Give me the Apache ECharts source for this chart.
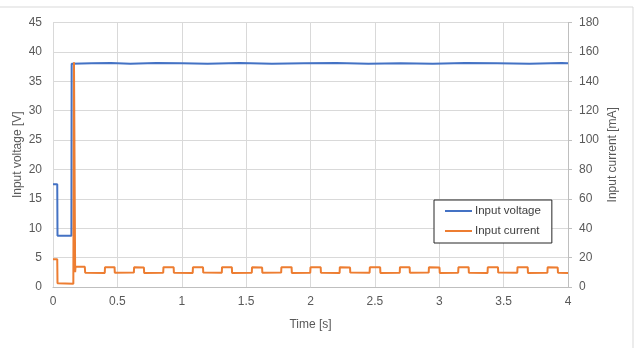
<!DOCTYPE html>
<html><head><meta charset="utf-8">
<script src="https://cdn.jsdelivr.net/npm/echarts@6/dist/echarts.min.js"></script>
<style>html,body{margin:0;padding:0;background:#fff}#c{width:637px;height:348px}</style>
</head><body><div id="c"></div>
<script>
// Time [s] / value pairs (step transitions use repeated times)
var voltageTime   = [0, 0.033, 0.035, 0.143, 0.145, 0.30, 0.45, 0.60, 0.80, 1.00, 1.20, 1.45, 1.70, 1.95, 2.20, 2.45, 2.70, 2.95, 3.20, 3.45, 3.70, 3.95, 4.0];
var voltageValues = [17.5, 17.5, 8.7, 8.7, 38.0, 38.05, 38.1, 38.0, 38.1, 38.05, 38.0, 38.1, 38.0, 38.05, 38.1, 38.0, 38.05, 38.0, 38.1, 38.05, 38.0, 38.1, 38.05];

var currentTime = [0, 0.033, 0.035, 0.158, 0.163, 0.168, 0.172, 0.175, 0.247, 0.250,
  0.402, 0.404, 0.478, 0.480, 0.628, 0.630, 0.706, 0.708, 0.856, 0.858, 0.937, 0.939,
  1.085, 1.087, 1.165, 1.167, 1.311, 1.313, 1.389, 1.391, 1.544, 1.546, 1.624, 1.626,
  1.772, 1.774, 1.853, 1.855, 1.998, 2.000, 2.079, 2.081, 2.226, 2.228, 2.307, 2.309,
  2.459, 2.461, 2.541, 2.543, 2.693, 2.695, 2.770, 2.772, 2.918, 2.920, 3.002, 3.004,
  3.147, 3.149, 3.228, 3.230, 3.375, 3.377, 3.456, 3.458, 3.606, 3.608, 3.687, 3.689,
  3.840, 3.842, 3.920, 3.922, 4.0];
var currentValues = [18.8, 18.8, 2.5, 2.2, 153, 153, 10, 13.8, 13.8, 9.7,
  9.6, 13.4, 13.5, 9.7, 9.8, 13.4, 13.3, 9.6, 9.7, 13.5, 13.4, 9.7,
  9.6, 13.4, 13.4, 9.8, 9.7, 13.5, 13.4, 9.6, 9.7, 13.4, 13.3, 9.7,
  9.8, 13.4, 13.5, 9.6, 9.7, 13.4, 13.4, 9.7, 9.6, 13.5, 13.3, 9.8,
  9.7, 13.4, 13.4, 9.6, 9.7, 13.5, 13.4, 9.7, 9.8, 13.4, 13.3, 9.6,
  9.7, 13.4, 13.5, 9.7, 9.6, 13.4, 13.4, 9.8, 9.7, 13.5, 13.4, 9.6,
  9.7, 13.4, 13.3, 9.7, 9.6];

var seriesNames = ['Input voltage', 'Input current'];
var xAxisTitle = 'Time [s]';
var leftAxisTitle = 'Input voltage [V]';
var rightAxisTitle = 'Input current [mA]';

function pairs(t, v) { return t.map(function (x, i) { return [x, v[i]]; }); }

var FONT = 'Liberation Sans';
var TXT = '#595959';
var chart = echarts.init(document.getElementById('c'), null, {renderer: 'canvas'});
chart.setOption({
  animation: false,
  backgroundColor: '#fff',
  textStyle: {fontFamily: FONT},
  graphic: [{
    type: 'rect', silent: true, z: -10,
    shape: {x: -5, y: 7, width: 638, height: 400},
    style: {fill: null, stroke: '#d9d9d9', lineWidth: 1}
  }],
  grid: {left: 53, right: 69, top: 22.5, bottom: 61},
  legend: {
    orient: 'vertical', left: 434, top: 200,
    data: seriesNames,
    icon: 'rect', itemWidth: 27, itemHeight: 2, itemGap: 8,
    padding: [5, 11, 6, 11],
    borderColor: '#262626', borderWidth: 1,
    backgroundColor: '#fff',
    textStyle: {fontFamily: FONT, fontSize: 11.5, color: '#404040', padding: [0, 0, 0, -2]}
  },
  xAxis: {
    type: 'value', min: 0, max: 4, interval: 0.5,
    name: xAxisTitle, nameLocation: 'middle', nameGap: 32, nameMoveOverlap: false,
    nameTextStyle: {fontFamily: FONT, fontSize: 12, color: TXT},
    axisLine: {show: true, lineStyle: {color: '#bfbfbf', width: 1}},
    axisTick: {show: false},
    axisLabel: {fontFamily: FONT, fontSize: 12, color: TXT, margin: 9},
    splitLine: {show: true, lineStyle: {color: '#d9d9d9', width: 1}}
  },
  yAxis: [{
    type: 'value', min: 0, max: 45, interval: 5, position: 'left',
    name: leftAxisTitle, nameLocation: 'middle', nameGap: 29, nameRotate: 90, nameMoveOverlap: false,
    nameTextStyle: {fontFamily: FONT, fontSize: 12, color: TXT},
    axisLine: {show: true, lineStyle: {color: '#d9d9d9', width: 1}},
    axisTick: {show: false},
    axisLabel: {fontFamily: FONT, fontSize: 12, color: TXT, margin: 11},
    splitLine: {show: true, lineStyle: {color: '#d9d9d9', width: 1}}
  }, {
    type: 'value', min: 0, max: 180, interval: 20, position: 'right',
    name: rightAxisTitle, nameLocation: 'middle', nameGap: 39, nameRotate: 90, nameMoveOverlap: false,
    nameTextStyle: {fontFamily: FONT, fontSize: 12, color: TXT},
    axisLine: {show: true, lineStyle: {color: '#bfbfbf', width: 1}},
    axisTick: {show: true, inside: false, length: 4, lineStyle: {color: '#bfbfbf'}},
    axisLabel: {fontFamily: FONT, fontSize: 12, color: TXT, margin: 11},
    splitLine: {show: false}
  }],
  series: [{
    name: seriesNames[0], type: 'line', yAxisIndex: 0,
    data: pairs(voltageTime, voltageValues),
    symbol: 'none', lineStyle: {color: '#4472C4', width: 2}, itemStyle: {color: '#4472C4'}, z: 3
  }, {
    name: seriesNames[1], type: 'line', yAxisIndex: 1,
    data: pairs(currentTime, currentValues),
    symbol: 'none', lineStyle: {color: '#ED7D31', width: 2}, itemStyle: {color: '#ED7D31'}, z: 4
  }]
});
</script></body></html>
